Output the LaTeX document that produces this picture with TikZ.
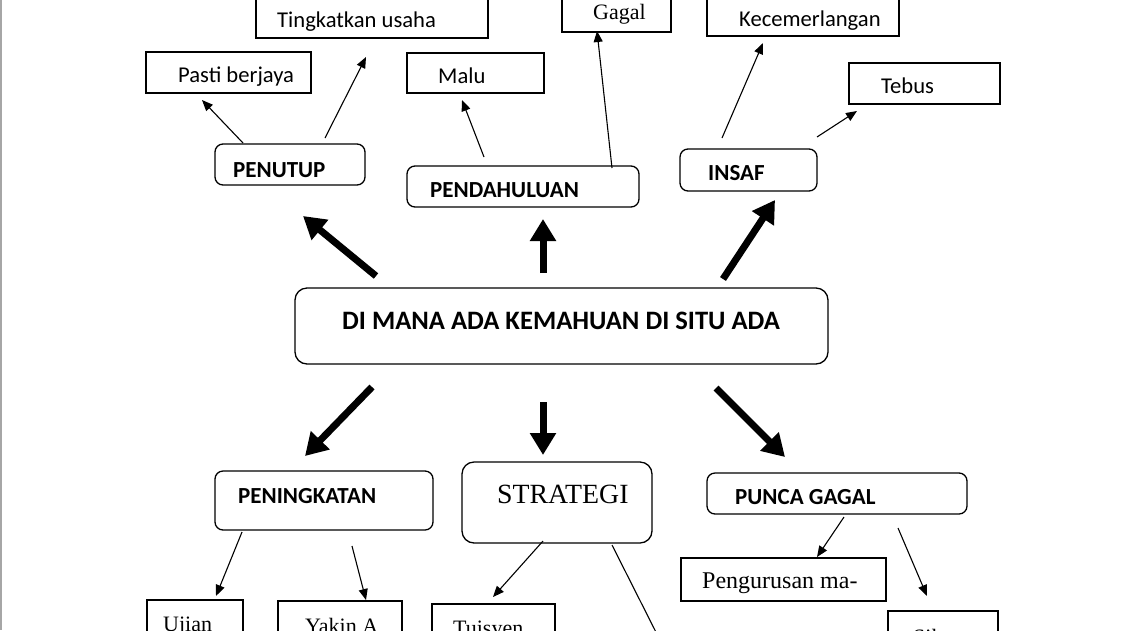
\documentclass[tikz,border=0pt]{standalone}
\usepackage{fontspec}
\setmainfont{Carlito}
\newfontfamily\serifface{Liberation Serif}
\usetikzlibrary{arrows.meta}
\begin{document}
\begin{tikzpicture}[x=1pt,y=-1pt,
  box/.style={draw, line width=1.3pt, inner sep=0pt, rectangle},
  rbox/.style={box, rounded corners=8pt},
  txt/.style={anchor=base west, inner sep=0pt, font=\fontsize{22.6}{26}\selectfont},
  btxt/.style={anchor=base west, inner sep=0pt, font=\fontsize{23}{26}\selectfont\bfseries},
  stxt/.style={anchor=base west, inner sep=0pt, font=\fontsize{22}{26}\selectfont\serifface},
  smallarrow/.style={line width=1.1pt, -{Triangle[length=11pt,width=9pt]}},
  bigarrow/.style={line width=7pt, -{Triangle[length=22pt,width=25pt]}},
]
\useasboundingbox (0,0) rectangle (1131,630);
\clip (0,0) rectangle (1131,630);
\fill[white] (0,0) rectangle (1131,630);
\draw[gray!70, line width=2pt] (1,0) -- (1,630);

% top boxes
\node[box, minimum width=232pt, minimum height=58pt] (tingkat) at (372,9) {};
\node[txt] (tingkat-t) at (277,27) {Tingkatkan usaha};
\node[box, minimum width=165pt, minimum height=41pt] (pasti) at (228.5,72.5) {};
\node[txt] (pasti-t) at (178,82) {Pasti berjaya};
\node[box, minimum width=137pt, minimum height=40pt] (malu) at (475.5,73) {};
\node[txt] (malu-t) at (438,83) {Malu};
\node[box, minimum width=109pt, minimum height=52pt] (gagal) at (616.5,6) {};
\node[stxt] (gagal-t) at (593,19) {Gagal};
\node[box, minimum width=192pt, minimum height=56pt] (kecem) at (803,8) {};
\node[txt] (kecem-t) at (739,26) {Kecemerlangan};
\node[box, minimum width=151pt, minimum height=41pt] (tebus) at (924.5,83.5) {};
\node[txt] (tebus-t) at (881,93) {Tebus};

% second row
\node[rbox, minimum width=150pt, minimum height=41pt] (penutup) at (290,164.5) {};
\node[btxt] (penutup-t) at (233,177) {PENUTUP};
\node[rbox, minimum width=232pt, minimum height=41pt] (pendah) at (523,186.5) {};
\node[btxt] (pendah-t) at (430,197) {PENDAHULUAN};
\node[rbox, minimum width=137pt, minimum height=42pt] (insaf) at (748.5,170) {};
\node[btxt] (insaf-t) at (708,180) {INSAF};

% centre
\node[rbox, rounded corners=12pt, minimum width=533pt, minimum height=76pt] (centre) at (561.5,326) {};
\node[btxt, font=\fontsize{26.6}{30}\selectfont\bfseries] (centre-t) at (342,329) {DI MANA ADA KEMAHUAN DI SITU ADA};

% lower row
\node[rbox, minimum width=218pt, minimum height=59pt] (pening) at (324,500.5) {};
\node[btxt] (pening-t) at (238,503) {PENINGKATAN};
\node[rbox, rounded corners=12pt, minimum width=190pt, minimum height=81pt] (strategi) at (557,502.5) {};
\node[stxt, font=\fontsize{27.8}{30}\selectfont\serifface] (strategi-t) at (497,503) {STRATEGI};
\node[rbox, minimum width=260pt, minimum height=41pt] (punca) at (837,493.5) {};
\node[btxt] (punca-t) at (735,504) {PUNCA GAGAL};

% bottom boxes
\node[box, minimum width=205pt, minimum height=43pt] (pengurusan) at (783.5,579.5) {};
\node[stxt, font=\fontsize{24}{26}\selectfont\serifface] (pengurusan-t) at (702,588) {Pengurusan ma-};
\node[box, minimum width=110pt, minimum height=50pt] (sikap) at (943,636) {};
\node[stxt] (sikap-t) at (913,644) {Sikap};
\node[box, minimum width=96pt, minimum height=50pt] (ujian) at (195,625) {};
\node[stxt] (ujian-t) at (163,631) {Ujian};
\node[box, minimum width=124pt, minimum height=50pt] (yakin) at (340,626) {};
\node[stxt] (yakin-t) at (305,633) {Yakin A};
\node[box, minimum width=123pt, minimum height=50pt] (tuisyen) at (493.5,629) {};
\node[stxt] (tuisyen-t) at (453,635) {Tuisyen};

% connector ends
\coordinate (penutup-a) at (243,143);   \coordinate (pasti-a) at (202,100);
\coordinate (penutup-b) at (325,138);   \coordinate (tingkat-a) at (366,57);
\coordinate (pendah-a) at (484,157);    \coordinate (malu-a) at (462,100);
\coordinate (pendah-b) at (612,168);    \coordinate (gagal-a) at (597,31);
\coordinate (insaf-a) at (722,138);     \coordinate (kecem-a) at (763,43);
\coordinate (insaf-b) at (817,137);     \coordinate (tebus-a) at (857,111);
\coordinate (pening-a) at (242,532);    \coordinate (ujian-a) at (216,596);
\coordinate (pening-b) at (352,546);    \coordinate (yakin-a) at (366,600);
\coordinate (strategi-a) at (543,541);  \coordinate (tuisyen-a) at (493,597);
\coordinate (strategi-b) at (612,545);  \coordinate (strategi-end) at (670,660);
\coordinate (punca-a) at (844,517);     \coordinate (pengurusan-a) at (817,557);
\coordinate (punca-b) at (898,528);     \coordinate (sikap-a) at (927,596);

\draw[smallarrow] (penutup-a) -- (pasti-a);
\draw[smallarrow] (penutup-b) -- (tingkat-a);
\draw[smallarrow] (pendah-a) -- (malu-a);
\draw[smallarrow] (pendah-b) -- (gagal-a);
\draw[smallarrow] (insaf-a) -- (kecem-a);
\draw[smallarrow] (insaf-b) -- (tebus-a);
\draw[smallarrow] (pening-a) -- (ujian-a);
\draw[smallarrow] (pening-b) -- (yakin-a);
\draw[smallarrow] (strategi-a) -- (tuisyen-a);
\draw[smallarrow] (strategi-b) -- (strategi-end);
\draw[smallarrow] (punca-a) -- (pengurusan-a);
\draw[smallarrow] (punca-b) -- (sikap-a);

% thick arrows from centre
\coordinate (c-ul) at (376,276); \coordinate (t-ul) at (303,216);
\coordinate (c-u) at (543,273);  \coordinate (t-u) at (543,219);
\coordinate (c-ur) at (723,279); \coordinate (t-ur) at (775,200);
\coordinate (c-dl) at (372,387); \coordinate (t-dl) at (305,456);
\coordinate (c-d) at (543,402);  \coordinate (t-d) at (543,455);
\coordinate (c-dr) at (716,388); \coordinate (t-dr) at (785,457);
\draw[bigarrow] (c-ul) -- (t-ul);
\draw[bigarrow] (c-u) -- (t-u);
\draw[bigarrow] (c-ur) -- (t-ur);
\draw[bigarrow] (c-dl) -- (t-dl);
\draw[bigarrow] (c-d) -- (t-d);
\draw[bigarrow] (c-dr) -- (t-dr);
\end{tikzpicture}
\end{document}
